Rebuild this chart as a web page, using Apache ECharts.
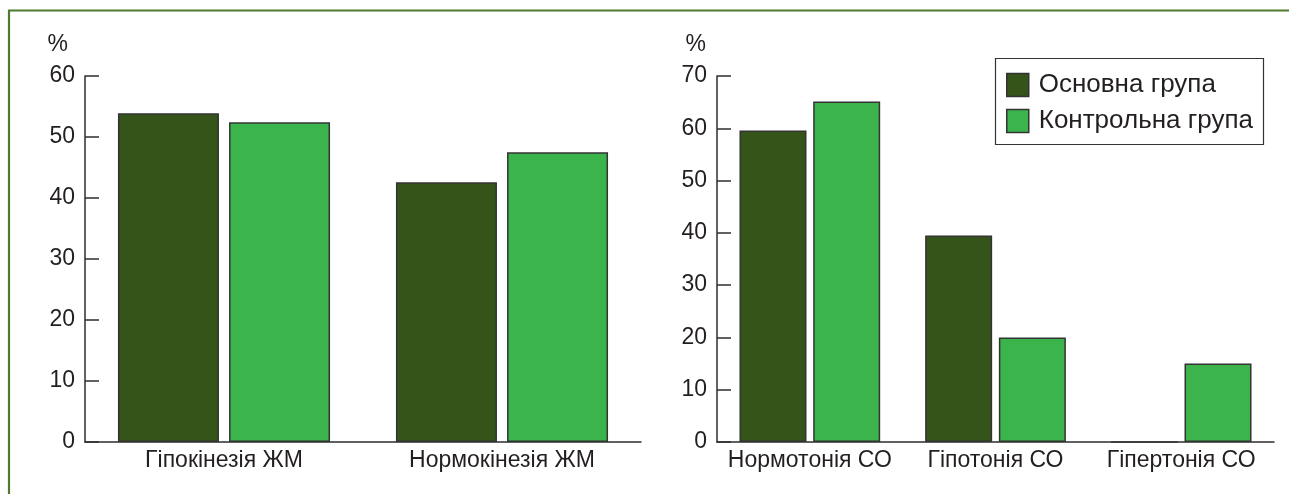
<!DOCTYPE html>
<html>
<head>
<meta charset="utf-8">
<script src="https://cdn.jsdelivr.net/npm/echarts@6/dist/echarts.min.js"></script>
<style>
  html, body { margin: 0; padding: 0; background: #ffffff; }
  #chart { width: 1289px; height: 494px; }
</style>
</head>
<body>
<div id="chart"></div>
<script>
// Left panel: wall-motion (ЖМ) categories
var catsLeft = ['Гіпокінезія ЖМ', 'Нормокінезія ЖМ'];
var mainLeft = [53.9, 42.6];
var ctrlLeft = [52.4, 47.5];

// Right panel: vascular tone (СО) categories
var catsRight = ['Нормотонія СО', 'Гіпотонія СО', 'Гіпертонія СО'];
var mainRight = [59.6, 39.5, 0];
var ctrlRight = [65.1, 20, 15];

var seriesNames = ['Основна група', 'Контрольна група'];
var unitLabel = '%';

var DARK = '#34541a';
var LIGHT = '#3bb54b';
var AXIS = '#2e2e2e';
var FRAME = '#4f7b31';
var FONT = 'Liberation Sans, Arial, sans-serif';

function catAxis(idx, cats) {
  return {
    type: 'category', gridIndex: idx, data: cats,
    axisLine: { lineStyle: { color: AXIS, width: 1.5 } },
    axisTick: { inside: true, length: 10, lineStyle: { color: AXIS, width: 1.5 } },
    axisLabel: { interval: 0, color: '#231f20', fontSize: 23, fontFamily: FONT, margin: 7 },
    splitLine: { show: false }
  };
}
function valAxis(idx, max, padRight) {
  return {
    type: 'value', gridIndex: idx, min: 0, max: max, interval: 10,
    name: unitLabel, nameLocation: 'end', nameGap: 20,
    nameTextStyle: { color: '#231f20', fontSize: 23, fontFamily: FONT, align: 'right', padding: [0, padRight, 0, 0] },
    axisLine: { show: true, lineStyle: { color: AXIS, width: 1.5 } },
    axisTick: { show: true, inside: true, length: 14, lineStyle: { color: AXIS, width: 1.5 } },
    axisLabel: { color: '#231f20', fontSize: 23, fontFamily: FONT, margin: 10 },
    splitLine: { show: false }
  };
}
function bars(name, idx, data, color, width) {
  return {
    name: name, type: 'bar', xAxisIndex: idx, yAxisIndex: idx, data: data,
    barWidth: width, barGap: '10%',
    itemStyle: { color: color, borderColor: '#333333', borderWidth: 1.5 }
  };
}

var chart = echarts.init(document.getElementById('chart'), null, { renderer: 'canvas' });
chart.setOption({
  animation: false,
  backgroundColor: '#ffffff',
  grid: [
    { left: 85, right: 648, top: 76, bottom: 52 },
    { left: 717, right: 15, top: 76, bottom: 52 }
  ],
  xAxis: [catAxis(0, catsLeft), catAxis(1, catsRight)],
  yAxis: [valAxis(0, 60, 17), valAxis(1, 70, 11)],
  legend: {
    data: seriesNames,
    orient: 'vertical', left: 1006, top: 72, padding: 0,
    icon: 'rect',
    itemWidth: 22, itemHeight: 23, itemGap: 10,
    itemStyle: { borderColor: '#333333', borderWidth: 1.5 },
    textStyle: { color: '#231f20', fontSize: 26, lineHeight: 23, fontFamily: FONT, padding: [0, 0, 0, 5] },
    selectedMode: false
  },
  graphic: [
    // legend frame
    { type: 'rect', shape: { x: 995.5, y: 58.5, width: 268, height: 86 },
      style: { fill: 'none', stroke: '#333333', lineWidth: 1.2 }, z: 0 },
    // outer panel frame (top and left edges)
    { type: 'polyline', shape: { points: [[9, 494], [9, 10.5], [1289, 10.5]] },
      style: { fill: 'none', stroke: FRAME, lineWidth: 2.2 }, z: 0 }
  ],
  series: [
    bars(seriesNames[0], 0, mainLeft, DARK, 101),
    bars(seriesNames[1], 0, ctrlLeft, LIGHT, 101),
    bars(seriesNames[0], 1, mainRight, DARK, 67),
    bars(seriesNames[1], 1, ctrlRight, LIGHT, 67)
  ]
});
</script>
</body>
</html>
